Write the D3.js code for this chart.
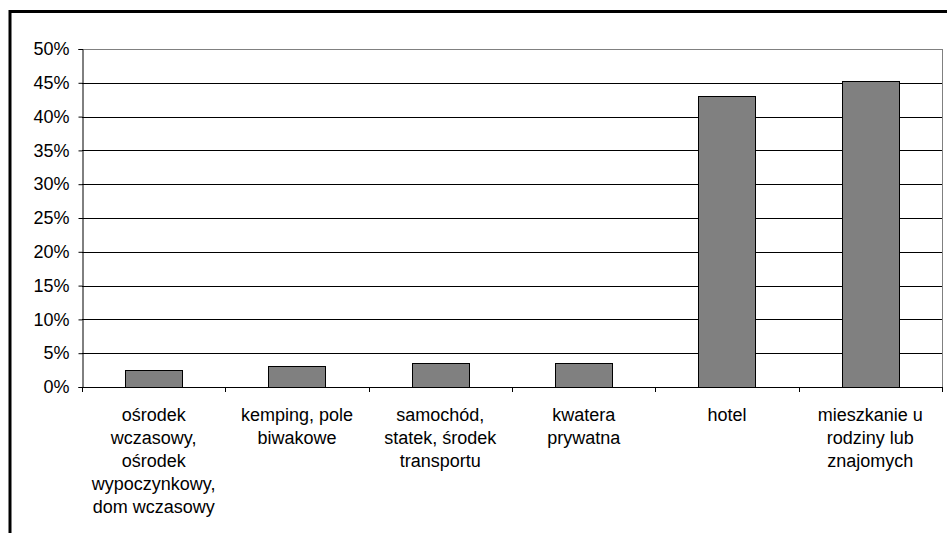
<!DOCTYPE html>
<html>
<head>
<meta charset="utf-8">
<script src="https://cdn.jsdelivr.net/npm/d3@7"></script>
<style>
  html, body { margin: 0; padding: 0; background: #fff; }
  svg { display: block; }
  text { font-family: "Liberation Sans", Arial, sans-serif; fill: #000; }
</style>
</head>
<body>
<svg id="chart" width="947" height="533"></svg>
<script>
const categories = [
  ["ośrodek", "wczasowy,", "ośrodek", "wypoczynkowy,", "dom wczasowy"],
  ["kemping, pole", "biwakowe"],
  ["samochód,", "statek, środek", "transportu"],
  ["kwatera", "prywatna"],
  ["hotel"],
  ["mieszkanie u", "rodziny lub", "znajomych"]
];
const values = [2.5, 3.1, 3.6, 3.6, 43.0, 45.3];
const yTicks = [0, 5, 10, 15, 20, 25, 30, 35, 40, 45, 50];

const svg = d3.select("#chart");
const x0 = 82, x1 = 942, y0 = 387, y1 = 49;
const FS = "18px";

// outer frame
svg.append("path")
  .attr("d", `M10,533 L10,11.5 L947,11.5`)
  .attr("fill", "none").attr("stroke", "#000").attr("stroke-width", 3);

const idx = categories.map((d, i) => i);
const x = d3.scaleBand().domain(idx).range([x0, x1]).paddingInner(0.6).paddingOuter(0.3);
const xb = d3.scaleBand().domain(idx).range([x0, x1]);
const y = d3.scaleLinear().domain([0, 50]).range([y0, y1]);

// gridlines
svg.append("g").selectAll("line").data(yTicks.filter(t => t > 0)).join("line")
  .attr("x1", x0).attr("x2", x1)
  .attr("y1", d => Math.round(y(d)) + 0.5).attr("y2", d => Math.round(y(d)) + 0.5)
  .attr("stroke", d => d === 50 ? "#808080" : "#000").attr("stroke-width", 1);

// right plot border
svg.append("line").attr("x1", x1 + 0.5).attr("x2", x1 + 0.5)
  .attr("y1", y1).attr("y2", y0).attr("stroke", "#808080");

// bars
svg.append("g").selectAll("rect").data(values).join("rect")
  .attr("x", (d, i) => Math.round(x(i)) + 0.5)
  .attr("width", Math.round(x.bandwidth()))
  .attr("y", d => Math.round(y(d)) + 0.5)
  .attr("height", d => Math.round(y0) - Math.round(y(d)))
  .attr("fill", "#808080").attr("stroke", "#000").attr("stroke-width", 1);

// y axis
const yAxis = d3.axisLeft(y).tickValues(yTicks).tickFormat(d => d + "%").tickSize(4).tickPadding(9);
const gy = svg.append("g").attr("transform", `translate(${x0 + 0.5},0)`).call(yAxis);
gy.selectAll("text").style("font-size", FS).attr("font-family", "Liberation Sans, Arial, sans-serif");
gy.select(".domain").attr("stroke", "#000");

// x axis with ticks at band boundaries
svg.append("line").attr("x1", x0).attr("x2", x1 + 1)
  .attr("y1", y0 + 0.5).attr("y2", y0 + 0.5).attr("stroke", "#000");
const bounds = idx.map(i => xb(i)).concat([x1]);
svg.append("g").selectAll("line").data(bounds).join("line")
  .attr("x1", d => Math.round(d) + 0.5).attr("x2", d => Math.round(d) + 0.5)
  .attr("y1", y0).attr("y2", y0 + 5).attr("stroke", "#000");

// category labels
const lab = svg.append("g").selectAll("text").data(categories).join("text")
  .attr("text-anchor", "middle")
  .attr("x", (d, i) => xb(i) + xb.bandwidth() / 2)
  .attr("y", 421)
  .style("font-size", FS);
lab.selectAll("tspan").data(d => d).join("tspan")
  .attr("x", function() { return this.parentNode.getAttribute("x"); })
  .attr("dy", (d, j) => j === 0 ? 0 : 23)
  .text(d => d);
</script>
</body>
</html>
